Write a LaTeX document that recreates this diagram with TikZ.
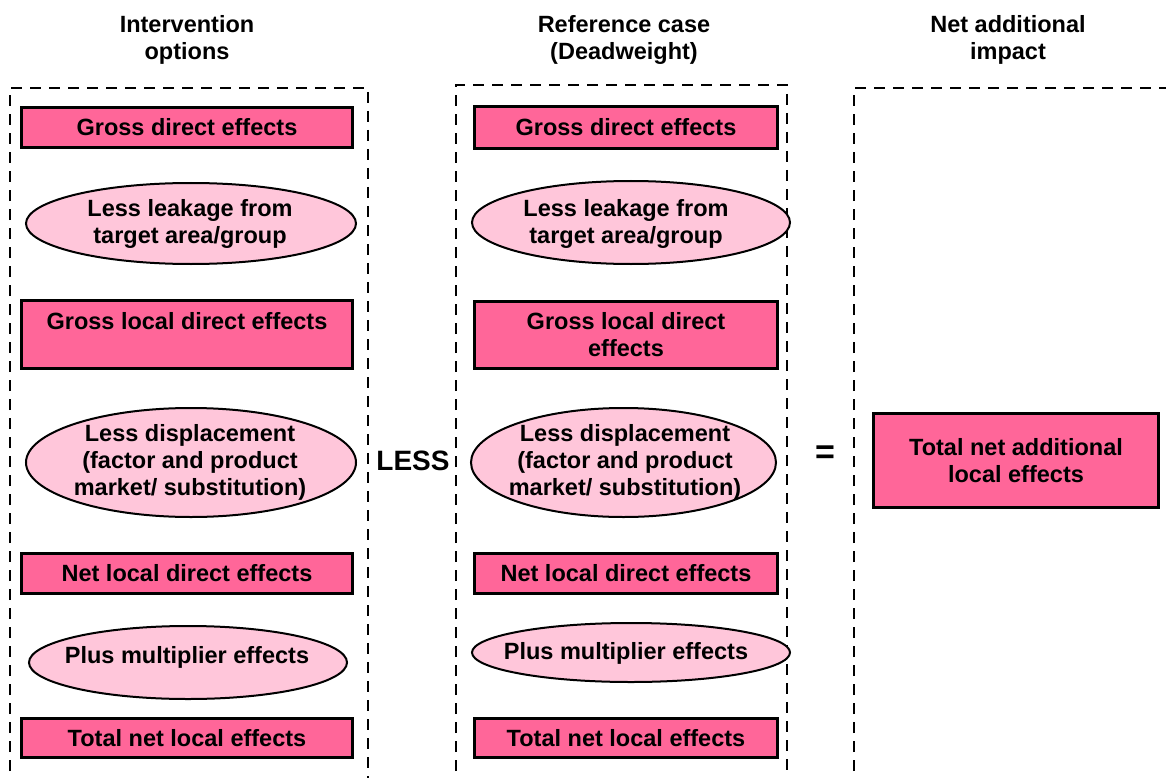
\documentclass[tikz,border=0pt]{standalone}
\usepackage{fontspec}
\setmainfont{Liberation Sans}
\usetikzlibrary{shapes.geometric}
\definecolor{boxpink}{RGB}{255,102,153}
\definecolor{ovalpink}{RGB}{255,198,218}
\begin{document}
\begin{tikzpicture}[x=1pt,y=-1pt,
  every node/.style={font=\bfseries\fontsize{23.5}{27}\selectfont, align=center, inner sep=0pt},
  effectbox/.style={draw=black, fill=boxpink, line width=3pt, rectangle},
  effectoval/.style={draw=black, fill=ovalpink, line width=2pt, ellipse},
  frame/.style={draw=black, line width=2pt, dash pattern=on 11pt off 8pt},
  sign/.style={font=\bfseries\fontsize{28}{30}\selectfont}]

\useasboundingbox (0,0) rectangle (1166,778);

% column frames, open at the bottom
\draw[frame] (10,790) -- (10,88) -- (368,88) -- (368,790);
\draw[frame] (456,790) -- (456,85) -- (787,85) -- (787,790);
\draw[frame] (854,790) -- (854,88) -- (1180,88);

% headings
\node (hint) at (187,40) {Intervention\\options};
\node (href) at (624,40) {Reference case\\(Deadweight)};
\node (hnet) at (1008,40) {Net additional\\impact};

% intervention options
\node[effectbox, minimum width=331pt, minimum height=40pt] (lgd) at (187,127.5) {Gross direct effects};
\node[effectoval, minimum width=330pt, minimum height=81pt] (lleak) at (191,223.5) {};
\node (lleakt) at (190,224) {Less leakage from\\target area/group};
\node[effectbox, minimum width=331pt, minimum height=68pt] (lgl) at (187,334.5) {Gross local direct effects\\\mbox{}};
\node[effectoval, minimum width=330pt, minimum height=109pt] (ldisp) at (191,462.5) {};
\node (ldispt) at (190,462) {Less displacement\\(factor and product\\market/ substitution)};
\node[effectbox, minimum width=331pt, minimum height=40pt] (lnl) at (187,573.5) {Net local direct effects};
\node[effectoval, minimum width=318pt, minimum height=73pt] (lplus) at (188,662.5) {};
\node (lplust) at (187,657) {Plus multiplier effects};
\node[effectbox, minimum width=331pt, minimum height=39pt] (ltn) at (187,738) {Total net local effects};

% reference case
\node[effectbox, minimum width=303pt, minimum height=42pt] (mgd) at (626,127.5) {Gross direct effects};
\node[effectoval, minimum width=318pt, minimum height=83pt] (mleak) at (631,222.5) {};
\node (mleakt) at (626,224) {Less leakage from\\target area/group};
\node[effectbox, minimum width=303pt, minimum height=67pt] (mgl) at (626,335) {Gross local direct\\effects};
\node[effectoval, minimum width=305pt, minimum height=109pt] (mdisp) at (623.5,462.5) {};
\node (mdispt) at (625,462) {Less displacement\\(factor and product\\market/ substitution)};
\node[effectbox, minimum width=303pt, minimum height=40pt] (mnl) at (626,573.5) {Net local direct effects};
\node[effectoval, minimum width=318pt, minimum height=59pt] (mplus) at (631,652.5) {};
\node (mplust) at (626,653) {Plus multiplier effects};
\node[effectbox, minimum width=303pt, minimum height=39pt] (mtn) at (626,738) {Total net local effects};

% operators
\node[sign] (less) at (413,461) {LESS};
\node[sign, font=\bfseries\fontsize{34}{36}\selectfont] (eq) at (825,455) {=};

% net additional impact
\node[effectbox, minimum width=285pt, minimum height=94pt] (total) at (1016,460.5) {Total net additional\\local effects};
\end{tikzpicture}
\end{document}
